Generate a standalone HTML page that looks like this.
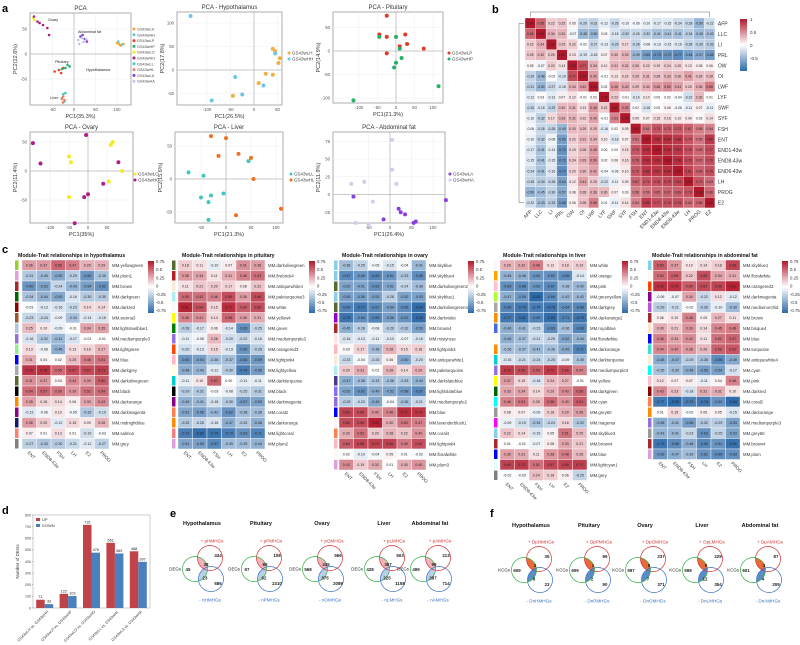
<!DOCTYPE html>
<html><head><meta charset="utf-8">
<style>
html,body{margin:0;padding:0;background:#fff;}
svg{display:block;font-family:"Liberation Sans",sans-serif;}
</style></head>
<body>
<svg id="fig" width="800" height="645" viewBox="0 0 800 645" xmlns="http://www.w3.org/2000/svg">
<defs>
<linearGradient id="cbar" x1="0" y1="0" x2="0" y2="1">
<stop offset="0" stop-color="#b2182b"/><stop offset="0.5" stop-color="#ffffff"/><stop offset="1" stop-color="#2e6aa9"/>
</linearGradient>
</defs>
</svg>
<script>
// ---------- DATA ----------
const pcaAllGroups = ["GS43wLH","GS43wHH","GS43wLP","GS43wHP","GS43wLO","GS43wHO","GS43wLL","GS43wHL","GS43wLA","GS43wHA"];
const pcaAllColors = ["#f0a830","#5bc8e8","#e8402a","#2ab070","#f2ec20","#a81e86","#40c8c0","#f08060","#7a40c8","#c8c0ec"];
const pcaAllX = [[100,105,110,115,108],[103,112],[-45,-35,-30,-25],[-20,-10,-28,-15],[-95,-92],[-93,-85,-80,-72,-62,-58],[-25,-20,-28,-22],[-28,-25,-22,-26],[15,25,30,20],[10,18,22,28,12]];
const pcaAllY = [[22,20,18,20,17],[25,19],[-35,-32,-38,-28],[-28,-25,-30,-22],[72,68],[75,65,62,58,52,38],[-80,-78,-88,-95],[-90,-85,-92,-97],[35,30,25,38],[28,32,24,30,20]];

const hypX = {LH:[40,45,55,52,25,40,10,-45], HH:[-135,45,-40,20,-25,-90]};
const hypY = {LH:[45,40,25,15,-8,-10,-28,-55], HH:[115,35,-15,-33,-52,-65]};
const pitX = {LP:[-25,-45,-25,-25,25,30,75,10], HP:[-45,0,10,15,0,-5,115,-115]};
const pitY = {LP:[75,35,30,-5,35,15,5,10], HP:[30,30,5,-15,-25,-35,-75,-105]};
const ovaX = {LO:[-50,-45,65,60,90,55,-50], HO:[-145,-125,-5,80,40,0,-10,-35]};
const ovaY = {LO:[25,15,50,45,0,-18,-45], HO:[48,13,62,15,-22,-40,-45,-90]};
const livX = {LL:[-75,-45,-50,-35,-30,-5,45,-35], HL:[-30,0,-15,25,50,55,20,110]};
const livY = {LL:[10,5,-28,-35,-25,-22,27,-62], HL:[65,62,35,38,32,0,-55,-45]};
const abdX = {LA:[-85,-15,20,25,35,55,60,130], HA:[5,5,15,-90,-60,-80,-50,-40]};
const abdY = {LA:[-3,-35,-20,-25,-28,-40,-38,-8], HA:[77,35,15,15,18,-40,-42,-10]};

const corrLabels = ["AFP","LLC","LI","PRL","OW","OI","LWF","LYF","SWF","SYF","FSH","ENT","END1-43w","END8-43w","END6-43w","LH","PROG","E2"];
const corrRows = [
[1.00,0.65,0.22,0.25,0.05,-0.29,-0.31,-0.12,-0.26,-0.10,-0.06,-0.10,-0.17,-0.15,-0.24,-0.28,-0.50,-0.22],
[0.65,1.00,0.34,0.32,-0.07,-0.48,-0.50,0.03,-0.18,-0.32,-0.26,-0.32,-0.41,-0.41,-0.41,-0.34,-0.45,-0.43],
[0.22,0.34,1.00,0.25,0.22,-0.02,-0.27,-0.13,-0.29,0.17,-0.28,-0.08,-0.13,-0.15,-0.16,-0.28,-0.30,-0.33],
[0.25,0.32,0.25,1.00,0.13,-0.19,-0.18,0.07,0.30,0.33,-0.49,-0.65,-0.73,-0.72,-0.77,-0.64,-0.57,-0.68],
[0.05,-0.07,0.22,0.13,1.00,0.77,0.34,0.12,0.31,0.32,0.30,0.22,0.19,0.24,0.20,0.12,0.08,0.06],
[-0.29,-0.48,-0.02,-0.19,0.77,1.00,0.42,-0.01,0.13,0.22,0.29,0.31,0.28,0.33,0.30,0.41,0.28,0.28],
[-0.31,-0.50,-0.27,-0.18,0.34,0.42,1.00,0.02,0.46,0.40,0.29,0.34,0.45,0.50,0.41,0.25,0.36,0.56],
[-0.12,0.03,-0.13,0.07,0.12,-0.01,0.02,1.00,0.22,-0.01,-0.16,0.10,0.00,0.02,-0.04,-0.22,0.30,0.01],
[-0.26,-0.18,-0.29,0.30,0.31,0.13,0.46,0.22,1.00,0.53,0.02,-0.18,0.00,0.06,-0.06,-0.11,0.07,-0.11],
[-0.10,-0.32,0.17,0.33,0.32,0.22,0.40,-0.01,0.53,1.00,0.09,0.07,0.15,0.16,0.10,0.09,0.03,0.14],
[-0.06,-0.26,-0.28,-0.49,0.30,0.29,0.29,-0.16,0.02,0.09,1.00,0.61,0.73,0.70,0.72,0.67,0.56,0.54],
[-0.10,-0.32,-0.08,-0.65,0.22,0.31,0.34,0.10,-0.18,0.07,0.61,1.00,0.90,0.90,0.86,0.74,0.59,0.86],
[-0.17,-0.41,-0.13,-0.73,0.19,0.28,0.45,0.00,0.00,0.15,0.73,0.90,1.00,0.90,0.87,0.76,0.65,0.77],
[-0.15,-0.41,-0.15,-0.72,0.24,0.33,0.50,0.02,0.06,0.16,0.70,0.90,0.90,1.00,0.90,0.79,0.67,0.76],
[-0.24,-0.41,-0.16,-0.77,0.20,0.30,0.41,-0.04,-0.06,0.10,0.72,0.86,0.87,0.90,1.00,0.81,0.69,0.76],
[-0.28,-0.34,-0.28,-0.64,0.12,0.41,0.25,-0.22,-0.11,0.09,0.67,0.74,0.76,0.79,0.81,1.00,0.73,0.63],
[-0.50,-0.45,-0.30,-0.57,0.08,0.28,0.36,0.30,0.07,0.03,0.56,0.59,0.65,0.67,0.69,0.73,1.00,0.66],
[-0.22,-0.43,-0.33,-0.68,0.06,0.28,0.56,0.01,-0.11,0.14,0.54,0.86,0.77,0.76,0.76,0.63,0.66,1.00]];

const traitLabels = ["ENT","END8-43w","FSH","LH","E2","PROG"];
const hypMods = ["yellowgreen","plum1","brown","darkgreen","darkred","sienna3","lightsteelblue1","mediumpurple3","lightgreen","blue","darkgrey","darkolivegreen","black","darkorange","darkmagenta","midnightblue","salmon","grey"];
const hypVals = [[0.36,0.37,0.56,0.47,0.29,0.29],[-0.31,-0.40,-0.50,-0.29,-0.60,-0.35],[-0.60,-0.52,-0.24,-0.43,-0.54,-0.62],[-0.34,-0.44,-0.50,-0.16,-0.30,-0.30],[-0.03,-0.13,-0.16,-0.23,0.14,0.14],[-0.23,-0.24,-0.09,-0.34,-0.14,-0.16],[0.25,0.10,-0.09,-0.01,0.34,0.35],[-0.16,-0.32,-0.41,-0.17,-0.01,-0.01],[0.13,-0.08,-0.46,0.13,0.16,0.27],[0.31,0.04,0.02,0.25,0.48,0.51],[0.75,0.76,0.55,0.67,0.67,0.71],[0.41,0.37,0.04,0.43,0.39,0.60],[0.54,0.57,0.50,0.39,0.52,0.54],[0.35,0.16,0.14,0.06,0.33,0.43],[-0.13,-0.06,0.10,-0.05,-0.32,-0.19],[0.36,0.20,-0.12,0.15,0.09,0.28],[0.07,0.01,0.13,0.01,-0.19,-0.03],[-0.27,-0.33,-0.30,-0.21,-0.12,-0.27]];
const pitMods = ["darkolivegreen","firebrick4","antiquewhite4","paleturquoise3","white","yellow4","green","mediumpurple3","orangered3","lightpink4","lightyellow","darkturquoise","black","darkmagenta","coral2","darkorange","lightcoral","plum2"];
const pitVals = [[0.18,0.11,-0.10,0.07,0.41,0.36],[0.38,0.34,0.11,0.31,0.46,0.53],[0.11,0.21,0.20,0.17,0.08,0.22],[0.55,0.52,0.46,0.65,0.36,0.66],[0.81,0.64,0.15,0.77,0.60,0.65],[0.46,0.41,0.14,0.56,0.36,0.31],[-0.28,-0.17,0.06,-0.14,-0.63,-0.25],[-0.11,-0.06,0.26,-0.20,-0.22,-0.16],[-0.20,-0.13,0.15,-0.13,-0.60,-0.28],[-0.60,-0.54,-0.36,-0.37,-0.63,-0.59],[-0.48,-0.43,-0.12,-0.30,-0.74,-0.56],[-0.11,0.10,0.57,0.00,-0.11,-0.11],[-0.29,-0.31,-0.03,-0.08,-0.25,-0.31],[-0.45,-0.41,-0.18,-0.30,-0.57,-0.53],[-0.51,-0.56,-0.42,-0.62,-0.38,-0.38],[-0.32,-0.25,-0.16,-0.47,-0.32,-0.46],[-0.73,-0.82,-0.79,-0.73,-0.63,-0.71],[-0.51,-0.55,-0.67,-0.39,-0.39,-0.44]];
const ovaMods = ["skyblue","skyblue4","darkolivegreen2","skyblue1","darkolivegreen4","darkviolet","brown4","mistyrose","lightpink3","antiquewhite1","paleturquoise","darkslateblue","lightslateblue","mediumpurple2","blue","lavenderblush1","coral4","lightpink4","floralwhite","plum3"];
const ovaVals = [[-0.38,-0.25,-0.05,-0.15,-0.04,-0.41],[-0.67,-0.60,-0.69,-0.61,-0.33,-0.65],[-0.52,-0.51,-0.63,-0.51,-0.24,-0.38],[-0.55,-0.55,-0.53,-0.28,-0.52,-0.53],[-0.69,-0.77,-0.67,-0.54,-0.65,-0.83],[-0.79,-0.64,-0.69,-0.56,-0.61,-0.83],[-0.45,-0.28,-0.08,-0.29,-0.32,-0.53],[-0.16,-0.13,-0.11,-0.13,-0.07,-0.16],[0.03,0.17,-0.38,0.28,0.15,0.18],[-0.23,-0.04,-0.25,0.06,-0.50,-0.20],[0.20,0.31,-0.01,0.28,0.14,0.29],[-0.47,-0.38,-0.33,-0.36,-0.33,-0.44],[-0.52,-0.62,-0.49,-0.52,-0.58,-0.67],[-0.29,-0.23,-0.49,-0.04,-0.36,-0.21],[0.69,0.66,0.40,0.46,0.77,0.74],[0.66,0.66,0.82,0.30,0.50,0.47],[0.30,0.52,0.20,0.28,0.22,0.40],[0.60,0.68,0.70,0.69,0.49,0.65],[0.02,-0.10,-0.04,0.05,0.01,-0.02],[0.43,0.19,0.32,0.01,0.30,0.40]];
const livMods = ["white","orange","pink","greenyellow","darkgrey","darkorange2","royalblue","floralwhite","darkorange","darkturquoise","mediumpurple3","yellow","darkgreen","cyan","grey60","magenta","skyblue3","brown4","blue","lightcyan1","grey"];
const livVals = [[0.29,0.32,0.48,0.12,0.18,0.19],[-0.45,-0.46,-0.60,-0.62,-0.65,-0.14],[-0.64,-0.66,-0.60,-0.67,-0.38,-0.42],[-0.47,-0.59,-0.85,-0.66,-0.42,-0.42],[-0.69,-0.76,-0.74,-0.78,-0.64,-0.68],[-0.77,-0.81,-0.69,-0.83,-0.71,-0.79],[-0.46,-0.41,-0.23,-0.65,-0.36,-0.69],[-0.46,-0.37,-0.21,-0.25,-0.52,-0.44],[-0.36,-0.37,-0.41,-0.36,-0.49,-0.71],[-0.15,-0.21,-0.24,-0.25,-0.09,-0.35],[0.72,0.66,0.59,0.72,0.66,0.47],[0.37,0.15,-0.16,0.24,0.27,-0.01],[0.33,0.34,0.14,0.29,0.43,0.56],[0.46,0.51,0.26,0.56,0.40,0.61],[0.08,0.07,-0.09,0.18,0.29,0.36],[-0.09,-0.19,-0.34,-0.24,0.16,-0.32],[0.22,0.14,-0.15,0.05,0.51,0.25],[0.01,-0.01,-0.07,0.08,0.33,0.21],[0.35,0.31,0.11,0.38,0.48,0.26],[0.69,0.72,0.52,0.67,0.69,0.71],[-0.02,-0.03,0.24,0.18,0.06,-0.25]];
const abdMods = ["skyblue1","floralwhite","orangered3","darkmagenta","mediumorchid","brown","bisque4","blue","turquoise","antiquewhite4","cyan","pink","darkred","coral2","darkorange","mediumpurple3","grey60","brown4","plum"];
const abdVals = [[0.60,0.37,0.10,0.14,0.18,0.68],[0.54,0.59,0.22,0.65,0.34,0.31],[0.76,0.75,0.60,0.67,0.68,0.81],[-0.06,-0.07,0.34,-0.22,0.12,-0.12],[-0.29,-0.21,-0.02,-0.30,-0.10,-0.39],[0.06,0.10,0.46,0.05,0.27,0.11],[0.30,0.21,0.39,0.14,0.45,0.48],[0.46,0.34,0.42,0.11,0.52,0.57],[0.44,0.42,0.38,0.26,0.58,0.62],[-0.48,-0.47,-0.29,-0.36,-0.66,-0.49],[-0.35,-0.39,-0.48,-0.55,-0.54,-0.17],[0.12,0.07,0.07,-0.11,0.04,0.46],[0.43,0.23,-0.18,0.31,0.31,0.10],[-0.77,-0.85,-0.73,-0.78,-0.62,-0.84],[0.01,0.15,-0.02,0.06,0.05,-0.15],[-0.48,-0.41,-0.56,-0.32,-0.29,-0.53],[-0.43,-0.41,-0.23,-0.63,-0.25,-0.53],[-0.79,-0.66,-0.48,-0.69,-0.61,-0.81],[-0.59,-0.47,-0.39,-0.61,-0.65,-0.63]];

const degCats = ["GS43wLH vs. GS43wHH","GS43wLP vs. GS43wHP","GS43wLO vs. GS43wHO","GS43wLL vs. GS43wHL","GS43wLA vs. GS43wHA"];
const degUp = [71,122,715,561,488];
const degDown = [33,103,476,469,397];
const degTicks = [0,100,200,300,400,500,600,700,800];

const vennTissues = ["Hypothalamus","Pituitary","Ovary","Liver","Abdominal fat"];
const vennCodes = ["H","P","O","L","A"];
const eTop = [434,108,566,503,213];
const eLensTop = [38,66,245,367,98];
const eLeft = [45,97,568,428,499];
const eLensBot = [23,62,375,225,287];
const eBot = [686,2310,2089,1158,714];
const fTop = [35,95,237,229,87];
const fLensTop = [3,1,8,9,3];
const fLeft = [609,609,597,598,601];
const fLensBot = [8,2,7,12,4];
const fBot = [23,90,371,354,209];

// ---------- HELPERS ----------
const NS = "http://www.w3.org/2000/svg";
const svg = document.getElementById("fig");
function el(tag, attrs, parent) {
  const e = document.createElementNS(NS, tag);
  for (const k in attrs) e.setAttribute(k, attrs[k]);
  (parent || svg).appendChild(e);
  return e;
}
function tag(e, name) {
  
  
  return e;
}
function txt(x, y, s, size, opts, parent) {
  const a = Object.assign({x:x, y:y, "font-size":size, fill:"#222"}, opts || {});
  const t = el("text", a, parent);
  t.textContent = s;
  return t;
}
function lerp(a,b,t){return Math.round(a+(b-a)*t);}
function divColor(v, max) {
  let t = Math.max(-1, Math.min(1, v / max));
  if (t >= 0) return `rgb(${lerp(255,178,t)},${lerp(255,24,t)},${lerp(255,43,t)})`;
  t = -t;
  return `rgb(${lerp(255,46,t)},${lerp(255,106,t)},${lerp(255,169,t)})`;
}
const cssFix = {lightslateblue:"#8470ff", grey60:"#999999", white:"#f8f8f8", floralwhite:"#fffaf0"};
function modColor(n) {
  if (cssFix[n]) return cssFix[n];
  return n.replace(/[0-9]+$/, "");
}

// ---------- PANEL LABELS ----------
[["a",2,12],["b",492,13],["c",2,253],["d",2,514],["e",170,517],["f",490,517]].forEach(p=>{
  const t = txt(p[1], p[2], p[0], 11, {"font-weight":"bold", fill:"#000"});
  tag(t, "panel-label-" + p[0]);
});

// ---------- PANEL A: PCA ----------
function pcaPlot(cfg) {
  const g = el("g", {});
  tag(g, cfg.name);
  const sx = v => cfg.x0px + (v - cfg.x0) * cfg.kx;
  const sy = v => cfg.y0px - (v - cfg.y0) * cfg.ky;
  const fr = el("rect", {x:cfg.L, y:cfg.T, width:cfg.R-cfg.L, height:cfg.B-cfg.T, fill:"#fff", stroke:"#999", "stroke-width":0.8}, g);
  tag(fr, "plot-frame");
  cfg.xt.forEach(v => {
    const X = sx(v);
    const gl = el("line", {x1:X, x2:X, y1:cfg.T, y2:cfg.B, stroke:"#eee", "stroke-width":0.5}, g);
    tag(gl, "x-grid-line");
    const tl = txt(X, cfg.B + 6, String(v), 4.3, {"text-anchor":"middle", fill:"#555"}, g);
    tag(tl, "x-tick-label");
  });
  cfg.yt.forEach(v => {
    const Y = sy(v);
    const gl = el("line", {x1:cfg.L, x2:cfg.R, y1:Y, y2:Y, stroke:"#eee", "stroke-width":0.5}, g);
    tag(gl, "y-grid-line");
    const tl = txt(cfg.L - 3, Y + 1.5, String(v), 4.3, {"text-anchor":"end", fill:"#555"}, g);
    tag(tl, "y-tick-label");
  });
  const zx = el("line", {x1:sx(0), x2:sx(0), y1:cfg.T, y2:cfg.B, stroke:"#999", "stroke-width":0.5}, g);
  tag(zx, "zero-line-x");
  const zy = el("line", {x1:cfg.L, x2:cfg.R, y1:sy(0), y2:sy(0), stroke:"#999", "stroke-width":0.5}, g);
  tag(zy, "zero-line-y");
  const tt = txt((cfg.L+cfg.R)/2, cfg.T - 3, cfg.title, 6, {"text-anchor":"middle", fill:"#333"}, g);
  tag(tt, "plot-title");
  const xl = txt((cfg.L+cfg.R)/2, cfg.B + 13, cfg.xlab, 5.5, {"text-anchor":"middle", fill:"#333"}, g);
  tag(xl, "x-axis-title");
  const yl = txt(0, 0, cfg.ylab, 5.5, {"text-anchor":"middle", fill:"#333", transform:`translate(${cfg.L-13},${(cfg.T+cfg.B)/2}) rotate(-90)`}, g);
  tag(yl, "y-axis-title");
  cfg.series.forEach((s, si) => {
    s.xs.forEach((xv, i) => {
      const c = el("circle", {cx:sx(xv), cy:sy(s.ys[i]), r:cfg.r, fill:s.color}, g);
      tag(c, "point-" + s.label);
    });
    const ly = cfg.legY + si * cfg.legDy;
    const lc = el("circle", {cx:cfg.legX, cy:ly, r:1.5, fill:s.color}, g);
    tag(lc, "legend-marker");
    const lt = txt(cfg.legX + 3, ly + 1.5, s.label, cfg.legFs || 4.5, {fill:"#444"}, g);
    tag(lt, "legend-entry");
  });
  (cfg.notes || []).forEach(n => {
    const nt = txt(n[0], n[1], n[2], 3.8, {fill:"#222"}, g);
    tag(nt, "cluster-label");
  });
}
pcaPlot({name:"pca-all", L:30, R:131, T:13, B:105, x0:0, x0px:74, kx:0.43, y0:0, y0px:54, ky:0.5,
  xt:[-50,0,50,100], yt:[50,0,-50], title:"PCA", xlab:"PC1(35.3%)", ylab:"PC2(22.6%)", r:1.3,
  legX:134, legY:29, legDy:5.8, legFs:3.8,
  series: pcaAllGroups.map((gname,i)=>({label:gname, color:pcaAllColors[i], xs:pcaAllX[i], ys:pcaAllY[i]})),
  notes:[[48,21,"Ovary"],[78,33,"Abdominal fat"],[55,63,"Pituitary"],[86,71,"Hypothalamus"],[50,99,"Liver"]]});
pcaPlot({name:"pca-hypothalamus", L:177, R:282, T:12, B:105, x0:0, x0px:254, kx:0.47, y0:0, y0px:70, ky:0.47,
  xt:[-100,-50,0,50], yt:[100,50,0,-50], title:"PCA - Hypothalamus", xlab:"PC1(26.5%)", ylab:"PC2(17.8%)", r:2,
  legX:289, legY:53, legDy:6,
  series:[{label:"GS43wLH", color:"#f0b040", xs:hypX.LH, ys:hypY.LH},{label:"GS43wHH", color:"#6cc6e8", xs:hypX.HH, ys:hypY.HH}]});
pcaPlot({name:"pca-pituitary", L:333, R:443, T:12, B:103, x0:0, x0px:396, kx:0.37, y0:0, y0px:51, ky:0.47,
  xt:[-100,-50,0,50,100], yt:[50,0,-50,-100], title:"PCA - Pituitary", xlab:"PC1(21.3%)", ylab:"PC2(14.9%)", r:2,
  legX:449, legY:53, legDy:6,
  series:[{label:"GS43wLP", color:"#e43a24", xs:pitX.LP, ys:pitY.LP},{label:"GS43wHP", color:"#22b06a", xs:pitX.HP, ys:pitY.HP}]});
pcaPlot({name:"pca-ovary", L:30, R:133, T:132, B:223, x0:0, x0px:88, kx:0.38, y0:0, y0px:171, ky:0.58,
  xt:[-100,-50,0,50], yt:[50,0,-50], title:"PCA - Ovary", xlab:"PC1(35%)", ylab:"PC2(11.4%)", r:2,
  legX:135, legY:174, legDy:6,
  series:[{label:"GS43wLO", color:"#f2ec20", xs:ovaX.LO, ys:ovaY.LO},{label:"GS43wHO", color:"#b01e88", xs:ovaX.HO, ys:ovaY.HO}]});
pcaPlot({name:"pca-liver", L:175, R:283, T:132, B:223, x0:0, x0px:226, kx:0.5, y0:0, y0px:179, ky:0.66,
  xt:[-50,0,50,100], yt:[50,0,-50], title:"PCA - Liver", xlab:"PC1(21.3%)", ylab:"PC2(15.6%)", r:2,
  legX:291, legY:174, legDy:6,
  series:[{label:"GS43wLL", color:"#40c8c0", xs:livX.LL, ys:livY.LL},{label:"GS43wHL", color:"#f07020", xs:livX.HL, ys:livY.HL}]});
pcaPlot({name:"pca-abdominal-fat", L:333, R:445, T:132, B:223, x0:0, x0px:390, kx:0.43, y0:0, y0px:194.5, ky:0.71,
  xt:[-50,0,50,100], yt:[75,50,25,0,-25], title:"PCA - Abdominal fat", xlab:"PC1(26.4%)", ylab:"PC2(11.9%)", r:2,
  legX:450, legY:174, legDy:6,
  series:[{label:"GS43wLA", color:"#8a3ee0", xs:abdX.LA, ys:abdY.LA},{label:"GS43wHA", color:"#d2cbef", xs:abdX.HA, ys:abdY.HA}]});

// ---------- PANEL B: correlation heatmap ----------
(function(){
  const g = el("g", {});
  tag(g, "trait-correlation-heatmap");
  const x0 = 525, y0 = 18, cs = 10.55;
  const n = corrLabels.length;
  const dt = el("path", {d:`M${x0+cs*0.5} 17 V12 H${x0+cs*(n-0.5)} V17`, fill:"none", stroke:"#666", "stroke-width":0.5}, g);
  tag(dt, "top-dendrogram");
  const dl = el("path", {d:`M524 ${y0+cs*0.5} H519 V${y0+cs*(n-0.5)} H524`, fill:"none", stroke:"#666", "stroke-width":0.5}, g);
  tag(dl, "left-dendrogram");
  for (let i = 0; i < n; i++) {
    for (let j = 0; j < n; j++) {
      const v = corrRows[i][j];
      const r = el("rect", {x:x0+j*cs, y:y0+i*cs, width:cs, height:cs, fill:divColor(v,1), stroke:"#fff", "stroke-width":0.3}, g);
      tag(r, "corr-cell");
      const t = txt(x0+j*cs+cs/2, y0+i*cs+cs/2+1.3, v.toFixed(2), 3.4, {"text-anchor":"middle", fill:"#222"}, g);
      tag(t, "corr-value");
    }
    const rl = txt(x0+n*cs+3, y0+i*cs+cs/2+2, corrLabels[i], 5, {fill:"#333"}, g);
    tag(rl, "row-label");
    const cl = txt(0, 0, corrLabels[i], 5, {"text-anchor":"end", fill:"#333", transform:`translate(${x0+i*cs+cs/2+2},${y0+n*cs+4}) rotate(-45)`}, g);
    tag(cl, "column-label");
  }
  const cb = el("rect", {x:740, y:19, width:7, height:52, fill:"url(#cbar)"}, g);
  tag(cb, "color-scale-bar");
  [["1",19],["0.5",32],["0",45],["-0.5",58]].forEach(p=>{
    const t = txt(750, p[1]+2, p[0], 4.5, {fill:"#333"}, g);
    tag(t, "color-scale-label");
  });
})();

// ---------- PANEL C: module-trait heatmaps ----------
function mtHeatmap(cfg) {
  const g = el("g", {});
  tag(g, cfg.name);
  const rh = 10.5, cw = 14.5;
  const tt = txt(cfg.titleX, 257, cfg.title, 5.2, {"font-weight":"bold", fill:"#111"}, g);
  tag(tt, "heatmap-title");
  cfg.mods.forEach((m, i) => {
    const y = 260 + i * rh;
    const s = el("rect", {x:cfg.stripX, y:y+0.5, width:3.5, height:rh-1, fill:modColor(m)}, g);
    tag(s, "module-color-strip");
    cfg.vals[i].forEach((v, j) => {
      const r = el("rect", {x:cfg.x0+j*cw, y:y, width:cw, height:rh, fill:divColor(v,0.85), stroke:"#fff", "stroke-width":0.4}, g);
      tag(r, "module-trait-cell");
      const t = txt(cfg.x0+j*cw+cw/2, y+rh/2+1.2, v.toFixed(2), 3.6, {"text-anchor":"middle", fill:"#222"}, g);
      tag(t, "cell-value");
    });
    const lt = txt(cfg.x0+6*cw+3, y+rh/2+1.6, "MM." + m, 4.3, {fill:"#333"}, g);
    tag(lt, "module-label");
  });
  const by = 260 + cfg.mods.length * rh;
  traitLabels.forEach((tl, j) => {
    const t = txt(0, 0, tl, 4.5, {fill:"#333", transform:`translate(${cfg.x0+j*cw+cw/2-2},${by+4}) rotate(45)`}, g);
    tag(t, "trait-label");
  });
  const cb = el("rect", {x:cfg.cbX, y:261, width:6, height:52, fill:"url(#cbar)"}, g);
  tag(cb, "color-scale-bar");
  ["0.75","0.5","0.25","0","-0.25","-0.5","-0.75"].forEach((s, k) => {
    const t = txt(cfg.cbX+8, 263+k*8.2, s, 4.3, {fill:"#333"}, g);
    tag(t, "color-scale-label");
  });
}
mtHeatmap({name:"heatmap-hypothalamus", title:"Module-Trait relationships in hypothalamus", titleX:18, stripX:15, x0:22, cbX:148, mods:hypMods, vals:hypVals});
mtHeatmap({name:"heatmap-pituitary", title:"Module-Trait relationships in pituitary", titleX:182, stripX:172, x0:178, cbX:309, mods:pitMods, vals:pitVals});
mtHeatmap({name:"heatmap-ovary", title:"Module-Trait relationships in ovary", titleX:342, stripX:334, x0:339, cbX:468, mods:ovaMods, vals:ovaVals});
mtHeatmap({name:"heatmap-liver", title:"Module-Trait relationships in liver", titleX:503, stripX:494, x0:500, cbX:622, mods:livMods, vals:livVals});
mtHeatmap({name:"heatmap-abdominal-fat", title:"Module-Trait relationships in abdominal fat", titleX:652, stripX:648, x0:653, cbX:782, mods:abdMods, vals:abdVals});

// ---------- PANEL D: DEG bar chart ----------
(function(){
  const g = el("g", {});
  tag(g, "deg-bar-chart");
  const L = 33, R = 150, T = 515, B = 608, max = 800;
  const sy = v => B - v / max * (B - T);
  const band = (R - L) / degCats.length;
  const fr = el("rect", {x:L, y:T, width:R-L, height:B-T, fill:"none", stroke:"#aaa", "stroke-width":0.6}, g);
  tag(fr, "plot-frame");
  degTicks.forEach(v => {
    const t = txt(L-2, sy(v)+1.3, String(v), 3.6, {"text-anchor":"end", fill:"#444"}, g);
    tag(t, "y-tick-label");
    const tk = el("line", {x1:L-1, x2:L, y1:sy(v), y2:sy(v), stroke:"#666", "stroke-width":0.4}, g);
    tag(tk, "y-tick");
  });
  const yt = txt(0, 0, "Number of DEGs", 4.5, {"text-anchor":"middle", fill:"#333", transform:`translate(19,${(T+B)/2}) rotate(-90)`}, g);
  tag(yt, "y-axis-title");
  const bw = 8.5;
  degCats.forEach((c, i) => {
    const cx = L + band * i + band / 2;
    const u = el("rect", {x:cx-bw, y:sy(degUp[i]), width:bw, height:B-sy(degUp[i]), fill:"#c0434a"}, g);
    tag(u, "bar-up");
    const d = el("rect", {x:cx, y:sy(degDown[i]), width:bw, height:B-sy(degDown[i]), fill:"#4a80bd"}, g);
    tag(d, "bar-down");
    const ut = txt(cx-bw/2, sy(degUp[i])-1.5, String(degUp[i]), 3.8, {"text-anchor":"middle", fill:"#222"}, g);
    tag(ut, "bar-value-up");
    const dt = txt(cx+bw/2, sy(degDown[i])-1.5, String(degDown[i]), 3.8, {"text-anchor":"middle", fill:"#222"}, g);
    tag(dt, "bar-value-down");
    const xl = txt(0, 0, c, 3.8, {"text-anchor":"end", fill:"#333", transform:`translate(${cx+4},${B+4}) rotate(-45)`}, g);
    tag(xl, "x-category-label");
  });
  const l1 = el("rect", {x:36, y:518, width:4, height:3, fill:"#c0434a"}, g);
  tag(l1, "legend-up-swatch");
  const l1t = txt(42, 521, "UP", 4, {fill:"#333"}, g);
  tag(l1t, "legend-up");
  const l2 = el("rect", {x:36, y:524, width:4, height:3, fill:"#4a80bd"}, g);
  tag(l2, "legend-down-swatch");
  const l2t = txt(42, 527, "DOWN", 4, {fill:"#333"}, g);
  tag(l2t, "legend-down");
})();

// ---------- PANELS E & F: Venn diagrams ----------
let clipId = 0;
function venn(cfg) {
  const g = el("g", {});
  tag(g, cfg.name);
  const r = 12.5;
  const red = [cfg.cx, cfg.cy], grn = [cfg.cx - 15, cfg.cy + 11], blu = [cfg.cx + 1, cfg.cy + 21];
  const t = txt(cfg.cx - 8, cfg.ty, cfg.title, 5.5, {"text-anchor":"middle", "font-weight":"bold", fill:"#111"}, g);
  tag(t, "venn-title");
  const id1 = "cg" + (clipId++);
  const cp1 = el("clipPath", {id:id1}, g);
  el("circle", {cx:grn[0], cy:grn[1], r:r}, cp1);
  const id2 = "cb" + (clipId++);
  const cp2 = el("clipPath", {id:id2}, g);
  el("circle", {cx:blu[0], cy:blu[1], r:r}, cp2);
  const g1 = el("g", {"clip-path":`url(#${id1})`}, g);
  const lt = el("circle", {cx:red[0], cy:red[1], r:r, fill:cfg.lensTopFill}, g1);
  tag(lt, "overlap-up-region");
  const g2 = el("g", {"clip-path":`url(#${id2})`}, g1);
  const lb = el("rect", {x:grn[0]-r, y:grn[1]-r, width:2*r, height:2*r, fill:cfg.lensBotFill}, g2);
  tag(lb, "overlap-down-region");
  const c1 = el("circle", {cx:red[0], cy:red[1], r:r, fill:"none", stroke:"#d03030", "stroke-width":0.7}, g);
  tag(c1, "up-genes-circle");
  const c2 = el("circle", {cx:grn[0], cy:grn[1], r:r, fill:"none", stroke:"#30b040", "stroke-width":0.7}, g);
  tag(c2, "degs-circle");
  const c3 = el("circle", {cx:blu[0], cy:blu[1], r:r, fill:"none", stroke:"#3a70c0", "stroke-width":0.7}, g);
  tag(c3, "down-genes-circle");
  const nums = [[red[0]+8, red[1]-1, cfg.top],[red[0]-4, red[1]+8, cfg.lensTop],[grn[0]-7, grn[1]+2, cfg.left],[blu[0]-6, blu[1]+0.5, cfg.lensBot],[blu[0]+7, blu[1]+6, cfg.bot]];
  nums.forEach(nm => {
    const tx = txt(nm[0], nm[1], String(nm[2]), 4.4, {"text-anchor":"middle", "font-weight":"bold", fill:"#222"}, g);
    tag(tx, "venn-count");
  });
  const lab = txt(grn[0]-r-1.5, grn[1]+1.5, cfg.setName, 4.4, {"text-anchor":"end", fill:"#222"}, g);
  tag(lab, "venn-set-label");
  const up = txt(red[0]+2, red[1]-r-3, "+ " + cfg.upName, 4.6, {"text-anchor":"middle", fill:"#d03030"}, g);
  tag(up, "venn-up-label");
  const dn = txt(blu[0]-1, blu[1]+r+10, "- " + cfg.downName, 4.6, {"text-anchor":"middle", fill:"#3a70c0"}, g);
  tag(dn, "venn-down-label");
}
const eCx = [210, 269, 330, 392, 438];
const fCx = [539, 597, 653, 710, 768];
vennTissues.forEach((ts, i) => {
  const code = vennCodes[i];
  venn({name:"venn-e-" + code, title:ts, cx:eCx[i], cy:558, ty:525, 
    top:eTop[i], lensTop:eLensTop[i], left:eLeft[i], lensBot:eLensBot[i], bot:eBot[i],
    setName:"DEGs", upName:"p"+code+"MHGs", downName:"n"+code+"MHGs", lensTopFill:"#f3b3bb", lensBotFill:"#b8cfe9"});
  venn({name:"venn-f-" + code, title:ts, cx:fCx[i], cy:559, ty:527,
    top:fTop[i], lensTop:fLensTop[i], left:fLeft[i], lensBot:fLensBot[i], bot:fBot[i],
    setName:"KCGs", upName:"Dp"+code+"MHGs", downName:"Dn"+code+"MHGs", lensTopFill:"#ea6a3a", lensBotFill:"#5a8cc8"});
});
</script>
</body></html>
